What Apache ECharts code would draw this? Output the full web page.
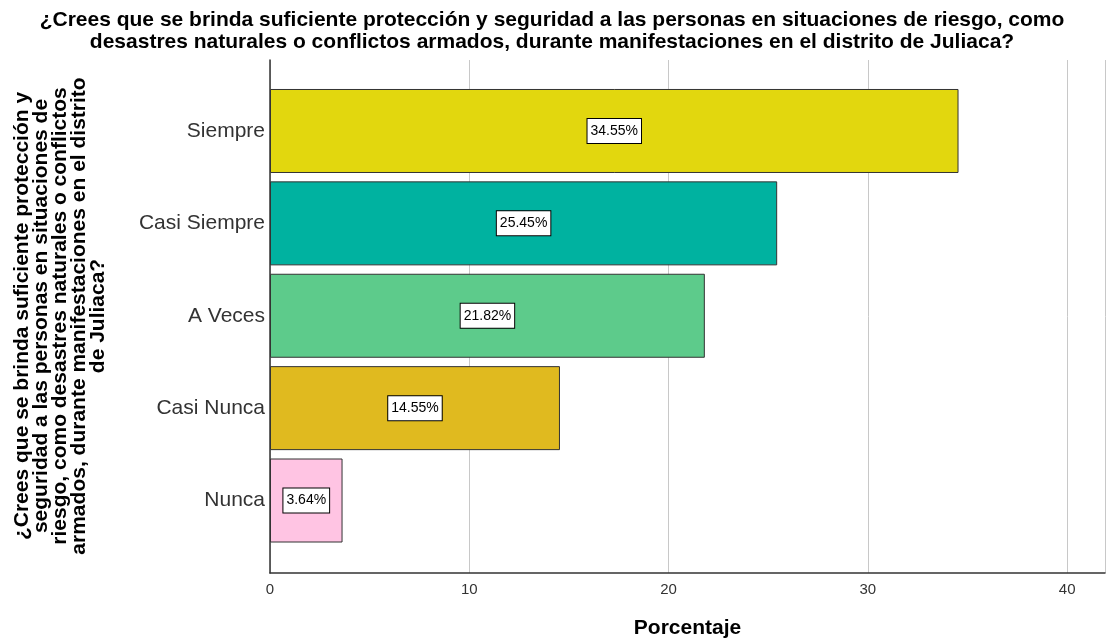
<!DOCTYPE html>
<html>
<head>
<meta charset="utf-8">
<script src="https://cdn.jsdelivr.net/npm/echarts@6/dist/echarts.min.js"></script>
<style>html,body{margin:0;padding:0;background:#fff;}#c{width:1107px;height:639px;}</style>
</head>
<body>
<div id="c"></div>
<script>
const categories = ['Siempre', 'Casi Siempre', 'A Veces', 'Casi Nunca', 'Nunca'];
const values = [34.55, 25.45, 21.82, 14.55, 3.64];
const barColors = ['#E2D70E', '#00B2A0', '#5DCB8B', '#E0BA1F', '#FFC4E3'];
const xTicks = [0, 10, 20, 30, 40];
const titleText = '¿Crees que se brinda suficiente protección y seguridad a las personas en situaciones de riesgo, como\ndesastres naturales o conflictos armados, durante manifestaciones en el distrito de Juliaca?';
const yTitle = '¿Crees que se brinda suficiente protección y\nseguridad a las personas en situaciones de\nriesgo, como desastres naturales o conflictos\narmados, durante manifestaciones en el distrito\nde Juliaca?';
const xTitle = 'Porcentaje';

const FONT = '"Liberation Sans", Arial, sans-serif';
const chart = echarts.init(document.getElementById('c'), null, {renderer: 'canvas'});
const xMax = 41.9;
chart.setOption({
  animation: false,
  backgroundColor: '#fff',
  textStyle: {fontFamily: FONT},
  graphic: [{
    type: 'text',
    x: 552, y: 31,
    style: {
      text: titleText,
      fontFamily: FONT, fontSize: 21, fontWeight: 'bold', fill: '#000',
      lineHeight: 22,
      align: 'center', verticalAlign: 'middle'
    }
  }, {
    type: 'text',
    x: 60, y: 316,
    rotation: Math.PI / 2,
    style: {
      text: yTitle,
      fontFamily: FONT, fontSize: 21, fontWeight: 'bold', fill: '#000',
      lineHeight: 19,
      align: 'center', verticalAlign: 'middle'
    }
  }],
  grid: [
    {left: 270, right: 2, top: 60, bottom: 66, containLabel: false, outerBoundsMode: 'none'},
    {left: 270, right: 2, top: 84.8, bottom: 92.3, containLabel: false, outerBoundsMode: 'none'}
  ],
  xAxis: [{
    gridIndex: 0, type: 'value', min: xTicks[0], max: xMax, interval: 10,
    axisLine: {show: true, lineStyle: {color: '#333', width: 1.5}},
    axisTick: {show: false},
    axisLabel: {fontSize: 15, color: '#333', margin: 9, showMaxLabel: false, fontFamily: FONT},
    splitLine: {show: true, lineStyle: {color: '#c8c8c8', width: 1}},
    name: xTitle, nameLocation: 'middle', nameGap: 45,
    nameTextStyle: {fontSize: 21, fontWeight: 'bold', color: '#000', fontFamily: FONT}
  }, {
    gridIndex: 1, type: 'value', min: xTicks[0], max: xMax, show: false
  }],
  yAxis: [{
    gridIndex: 0, type: 'category', data: categories, inverse: true,
    axisLine: {show: true, lineStyle: {color: '#333', width: 1.5}},
    axisTick: {show: false}, axisLabel: {show: false}, splitLine: {show: false}
  }, {
    gridIndex: 1, type: 'category', data: categories, inverse: true,
    axisLine: {show: false}, axisTick: {show: false},
    axisLabel: {fontSize: 21, color: '#333', margin: 5, fontFamily: FONT},
    splitLine: {show: false}
  }],
  series: [{
    type: 'bar',
    xAxisIndex: 1, yAxisIndex: 1,
    barWidth: 84,
    data: values.map((v, i) => ({value: v, itemStyle: {color: barColors[i]}})),
    itemStyle: {borderColor: '#333', borderWidth: 1},
    label: {
      show: true, position: 'inside',
      formatter: p => p.value.toFixed(2) + '%',
      fontSize: 14, color: '#000', fontFamily: FONT,
      backgroundColor: '#fff', borderColor: '#000', borderWidth: 1,
      padding: [5, 3, 4, 3], lineHeight: 15
    }
  }]
});
</script>
</body>
</html>
